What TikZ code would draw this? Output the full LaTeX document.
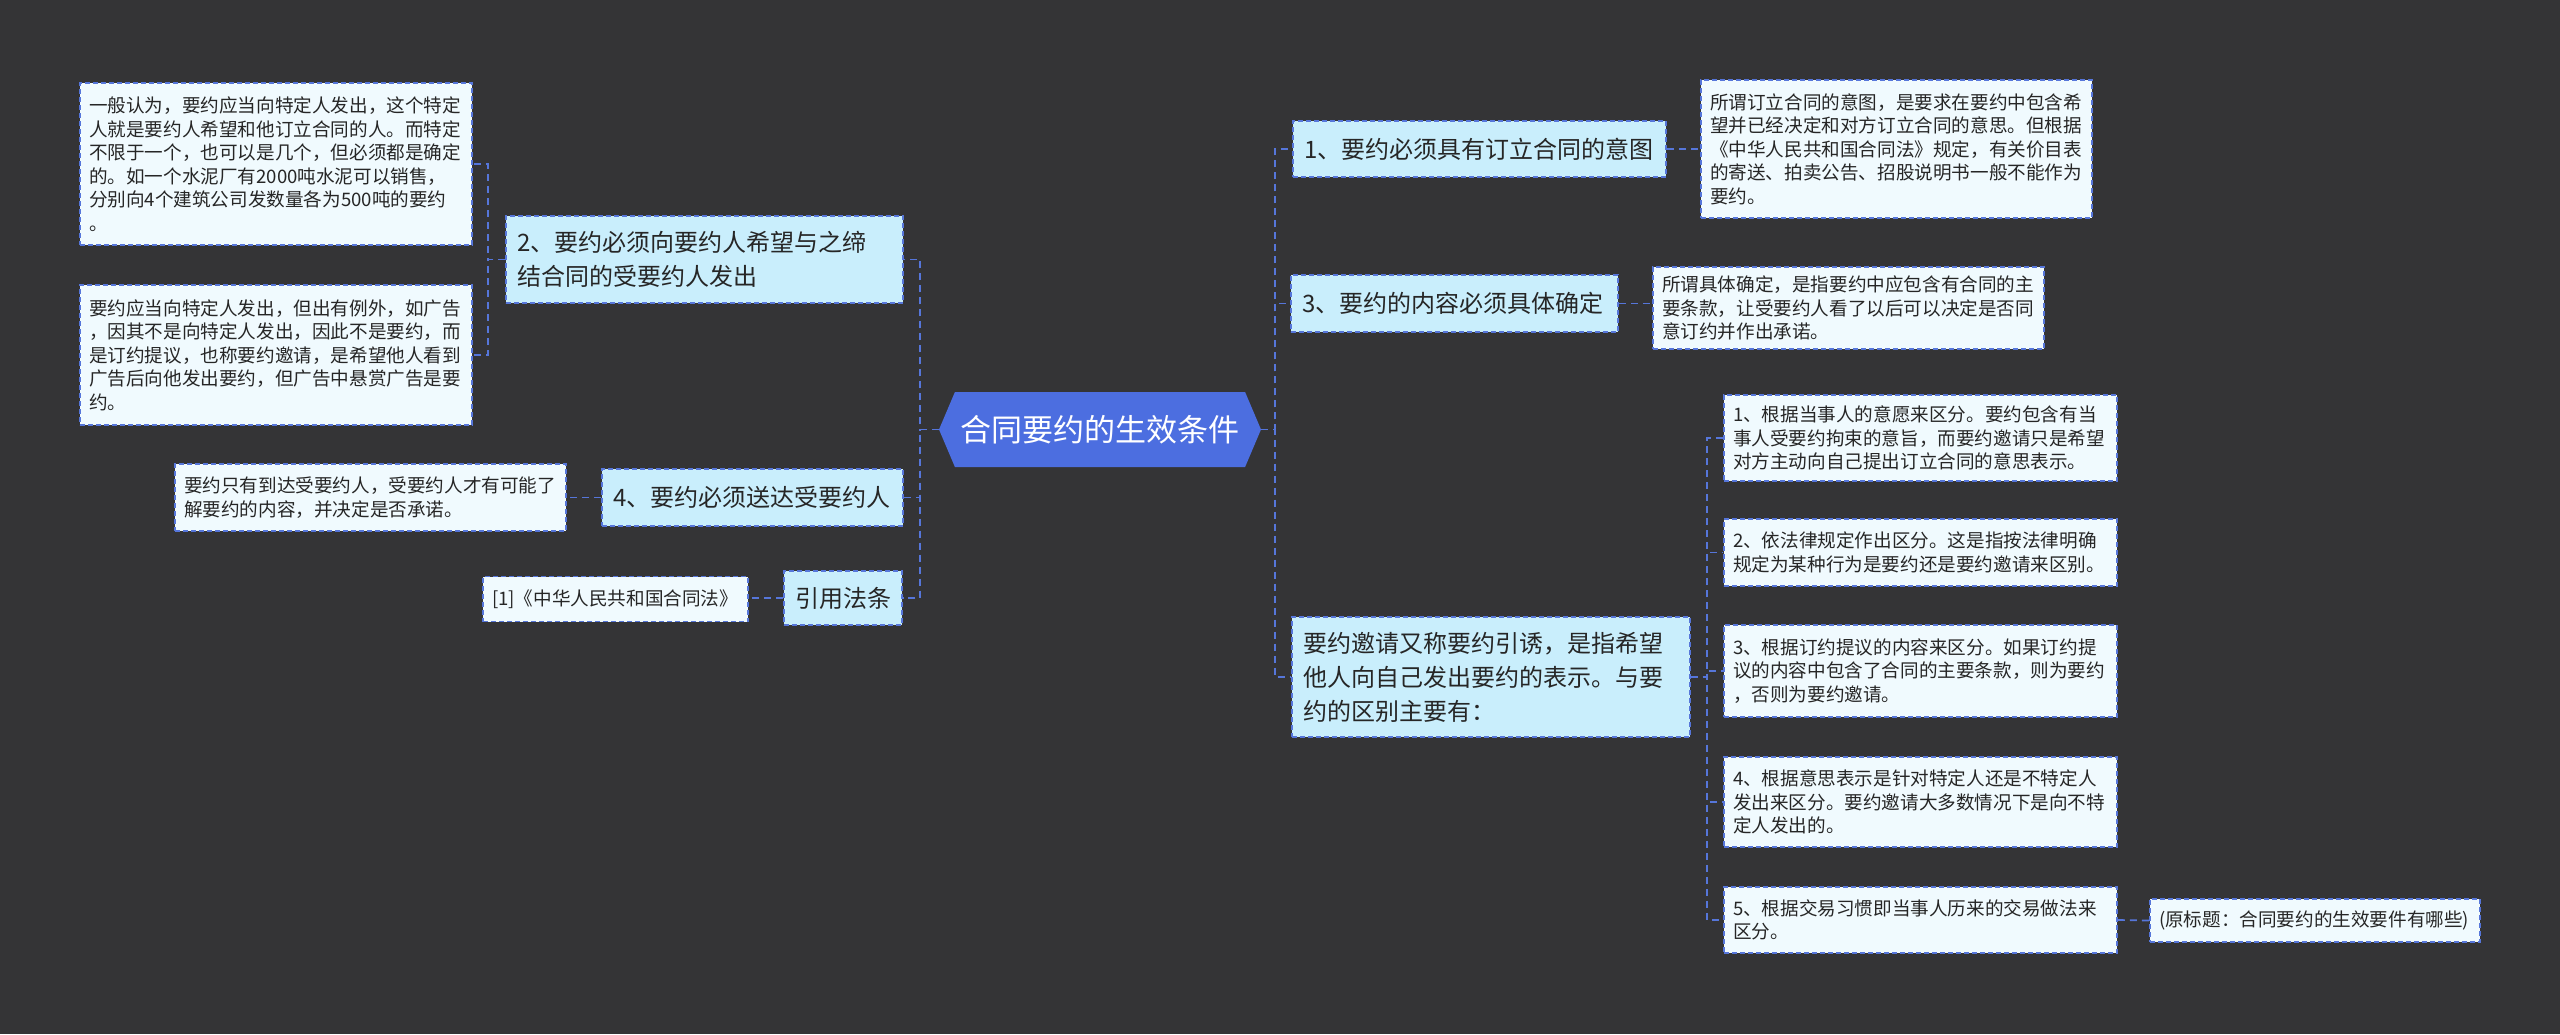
\documentclass[tikz,border=0pt]{standalone}
\usepackage{fontspec}
\setmainfont{Noto Sans CJK SC}
\usetikzlibrary{positioning,shapes.symbols}
\definecolor{bgc}{RGB}{52,52,54}
\definecolor{hubc}{RGB}{76,110,224}
\definecolor{linec}{RGB}{86,118,218}
\definecolor{topicc}{RGB}{201,238,252}
\definecolor{leafc}{RGB}{240,250,254}

\begin{document}
\begin{tikzpicture}[x=1pt,y=-1pt,
        conn/.style={draw=linec,line width=1.7pt,dash pattern=on 7pt off 5pt},
        nodebox/.style={draw=linec,line width=1.6pt,dash pattern=on 5pt off 3pt,align=left,inner ysep=0pt,text=black!85},
        topicbox/.style={nodebox,fill=topicc,font=\fontsize{24}{34}\selectfont,inner xsep=11pt,text width=#1},
        leafbox/.style={nodebox,fill=leafc,font=\fontsize{18.6}{23.5}\selectfont,inner xsep=9pt,text width=#1},
        hubbox/.style={signal,signal to=west and east,signal pointer angle=134,fill=hubc,text=white,font=\fontsize{31}{38}\selectfont,minimum width=322pt,minimum height=75pt,inner xsep=0pt}]
        \useasboundingbox (0,0) rectangle (2560,1034);
        \fill[bgc] (0,0) rectangle (2560,1034);
        \coordinate (lbus) at (920,0);
        \coordinate (rbus) at (1275,0);
        \coordinate (n2bus) at (488,0);
        \coordinate (r4bus) at (1707,0);
        \node[hubbox] (hub) at (1100,429.5) {合同要约的生效条件};
        \node[topicbox=375pt,minimum height=87pt] (n2) at (704.5,259.5) {2、要约必须向要约人希望与之缔\\结合同的受要约人发出};
        \node[topicbox=279pt,minimum height=57pt] (n4) at (752.5,497.5) {4、要约必须送达受要约人};
        \node[topicbox=96pt,minimum height=54pt] (cite) at (843,598) {引用法条};
        \node[leafbox=374pt,minimum height=162pt] (a1) at (276,164) {一般认为，要约应当向特定人发出，这个特定\\人就是要约人希望和他订立合同的人。而特定\\不限于一个，也可以是几个，但必须都是确定\\的。如一个水泥厂有2000吨水泥可以销售，\\分别向4个建筑公司发数量各为500吨的要约\\。};
        \node[leafbox=374pt,minimum height=140pt] (a2) at (276,355) {要约应当向特定人发出，但出有例外，如广告\\，因其不是向特定人发出，因此不是要约，而\\是订约提议，也称要约邀请，是希望他人看到\\广告后向他发出要约，但广告中悬赏广告是要\\约。};
        \node[leafbox=373pt,minimum height=67pt] (a4) at (370.5,497.5) {要约只有到达受要约人，受要约人才有可能了\\解要约的内容，并决定是否承诺。};
        \node[leafbox=247pt,minimum height=45pt] (citeleaf) at (615.5,599) {[1]《中华人民共和国合同法》};
        \node[topicbox=351pt,minimum height=56pt] (r1) at (1479.5,149) {1、要约必须具有订立合同的意图};
        \node[leafbox=373pt,minimum height=138pt] (r1leaf) at (1896.5,149) {所谓订立合同的意图，是要求在要约中包含希\\望并已经决定和对方订立合同的意思。但根据\\《中华人民共和国合同法》规定，有关价目表\\的寄送、拍卖公告、招股说明书一般不能作为\\要约。};
        \node[topicbox=305pt,minimum height=57pt] (r3) at (1454.5,303.5) {3、要约的内容必须具体确定};
        \node[leafbox=373pt,minimum height=82pt] (r3leaf) at (1848.5,308) {所谓具体确定，是指要约中应包含有合同的主\\要条款，让受要约人看了以后可以决定是否同\\意订约并作出承诺。};
        \node[topicbox=376pt,minimum height=120pt] (r4) at (1491,677) {要约邀请又称要约引诱，是指希望\\他人向自己发出要约的表示。与要\\约的区别主要有：};
        \node[leafbox=375pt,minimum height=86pt] (b1) at (1920.5,438) {1、根据当事人的意愿来区分。要约包含有当\\事人受要约拘束的意旨，而要约邀请只是希望\\对方主动向自己提出订立合同的意思表示。};
        \node[leafbox=375pt,minimum height=67pt] (b2) at (1920.5,552.5) {2、依法律规定作出区分。这是指按法律明确\\规定为某种行为是要约还是要约邀请来区别。};
        \node[leafbox=375pt,minimum height=92pt] (b3) at (1920.5,671) {3、根据订约提议的内容来区分。如果订约提\\议的内容中包含了合同的主要条款，则为要约\\，否则为要约邀请。};
        \node[leafbox=375pt,minimum height=90pt] (b4) at (1920.5,802) {4、根据意思表示是针对特定人还是不特定人\\发出来区分。要约邀请大多数情况下是向不特\\定人发出的。};
        \node[leafbox=375pt,minimum height=66pt] (b5) at (1920.5,920) {5、根据交易习惯即当事人历来的交易做法来\\区分。};
        \node[leafbox=312pt,minimum height=43pt] (b5leaf) at (2315,920.5) {(原标题：合同要约的生效要件有哪些)};
        \foreach \t in {n2,n4,cite}
            \draw[conn] (hub.west) -- (hub.west -| lbus) |- (\t.east);
        \foreach \t in {r1,r3,r4}
            \draw[conn] (hub.east) -- (hub.east -| rbus) |- (\t.west);
        \foreach \t in {a1,a2}
            \draw[conn] (n2.west) -- (n2.west -| n2bus) |- (\t.east);
        \foreach \t in {b1,b2,b3,b4,b5}
            \draw[conn] (r4.east) -- (r4.east -| r4bus) |- (\t.west);
        \draw[conn] (n4.west) -- (a4.east);
        \draw[conn] (cite.west) -- (cite.west -| citeleaf.east);
        \draw[conn] (r1.east) -- (r1leaf.west);
        \draw[conn] (r3.east) -- (r3.east -| r3leaf.west);
        \draw[conn] (b5.east) -- (b5leaf.west);
    \end{tikzpicture}
\end{document}
